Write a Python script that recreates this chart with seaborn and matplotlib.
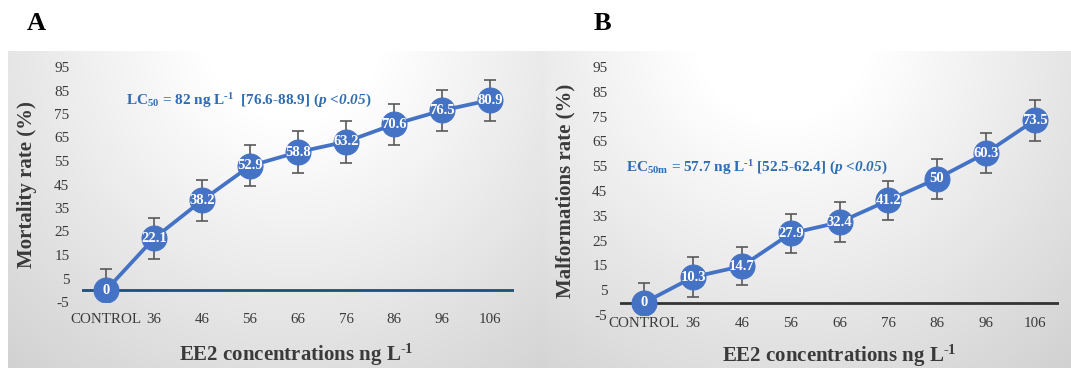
import numpy as np
import matplotlib
matplotlib.use("Agg")
import matplotlib.pyplot as plt
import seaborn as sns

sns.set_style("white")
plt.rcParams['font.family'] = ['Liberation Serif', 'DejaVu Serif']
plt.rcParams['axes.unicode_minus'] = False
plt.rcParams['mathtext.fontset'] = 'custom'
plt.rcParams['mathtext.rm'] = 'Liberation Serif:bold'
plt.rcParams['mathtext.bf'] = 'Liberation Serif:bold'
plt.rcParams['mathtext.it'] = 'Liberation Serif:italic:bold'
plt.rcParams['mathtext.sf'] = 'Liberation Serif:italic:bold'

# data
categories = ['CONTROL', '36', '46', '56', '66', '76', '86', '96', '106']
mortality = [0, 22.1, 38.2, 52.9, 58.8, 63.2, 70.6, 76.5, 80.9]
mortality_err = [9.0, 8.8, 8.7, 8.7, 8.8, 8.9, 8.8, 8.8, 8.7]
malform = [0, 10.3, 14.7, 27.9, 32.4, 41.2, 50, 60.3, 73.5]
malform_err = [7.8, 8.2, 7.7, 7.9, 8.1, 8.0, 8.1, 8.1, 8.2]
yticks = list(range(-5, 96, 10))

BLUE = '#4472C4'
TXT = '#3a3a3a'
W, H = 1071, 368

fig = plt.figure(figsize=(W / 100, H / 100), dpi=100)


def background(x0, x1, y0, y1, cx):
    # radial grey gradient behind each panel
    xs = np.arange(x0, x1)
    ys = np.arange(y0, y1)
    X, Y = np.meshgrid(xs, ys)
    r = np.sqrt((X - cx) ** 2 + (Y - y0 + 20) ** 2)
    v = 255 - np.clip(r - 90, 0, None) * 0.13
    v = np.clip(v, 200, 255) / 255.0
    img = np.dstack([v, v, v])
    bg = fig.add_axes([x0 / W, 1 - y1 / H, (x1 - x0) / W, (y1 - y0) / H], zorder=0)
    bg.imshow(img, aspect='auto', interpolation='bilinear')
    bg.axis('off')


background(8, 545, 51, 368, 293)
background(545, 1071, 51, 368, 782)


def panel(rect, vals, errs, ylabel, axis_color, lab_pad, ylab_pos, xlab_pos):
    ax = fig.add_axes(rect, zorder=1)
    ax.patch.set_alpha(0)
    ax.errorbar(categories, vals, yerr=errs, fmt='none', ecolor='#595959',
                elinewidth=1.2, capsize=4, capthick=1.2, zorder=2)
    ax.axhline(0, color=axis_color, lw=2, zorder=1)
    sns.lineplot(x=categories, y=vals, ax=ax, color=BLUE, lw=2.7, marker='o',
                 markersize=18, markeredgecolor=BLUE, sort=False, zorder=3)
    for i, v in enumerate(vals):
        ax.text(i, v, f'{v:g}', ha='center', va='center', color='white',
                fontsize=10.5, fontweight='bold', zorder=4)
    ax.set_xlim(-0.5, 8.5)
    ax.set_ylim(-5, 95)
    ax.set_yticks(yticks)
    ax.tick_params(axis='y', length=0, pad=9, labelsize=11, labelcolor=TXT)
    ax.tick_params(axis='x', length=0, pad=lab_pad, labelsize=10.8, labelcolor=TXT)
    for s in ax.spines.values():
        s.set_visible(False)
    ax.grid(False)
    ax.set_ylabel(ylabel, fontsize=15, fontweight='bold', color=TXT)
    ax.set_xlabel(r'EE2 concentrations ng L$^{\text{-}1}$', fontsize=15,
                  fontweight='bold', color=TXT)
    ax.yaxis.set_label_coords(*ylab_pos)
    ax.xaxis.set_label_coords(*xlab_pos)
    return ax


axA = panel([82 / W, 1 - 302 / H, 432 / W, 235 / H], mortality, mortality_err,
            'Mortality rate (%)', '#1F4E79', 8, (-0.104, 0.5), (0.495, -0.17))
axA.text(0.42, 80.5,
         r'LC$_{50}$ = 82 ng L$^{\text{-}1}$  [76.6-88.9] ($\mathsf{p}$ <$\mathsf{0.05}$)',
         ha='left', va='center', fontsize=11, fontweight='bold', color='#2E6DB4', zorder=5)

axB = panel([620 / W, 1 - 315 / H, 439 / W, 248 / H], malform, malform_err,
            'Malformations rate (%)', '#333333', 1.5, (-0.1025, 0.5), (0.499, -0.113))
axB.text(-0.37, 54.3,
         r'EC$_{50\mathrm{m}}$ = 57.7 ng L$^{\text{-}1}$ [52.5-62.4] ($\mathsf{p}$ <$\mathsf{0.05}$)',
         ha='left', va='center', fontsize=11, fontweight='bold', color='#2E6DB4', zorder=5)

fig.text(36 / W, 1 - 24 / H, 'A', ha='center', va='center', fontsize=19,
         fontweight='bold', color='black')
fig.text(602 / W, 1 - 23 / H, 'B', ha='center', va='center', fontsize=19,
         fontweight='bold', color='black')

fig.savefig('out.png', dpi=100)
